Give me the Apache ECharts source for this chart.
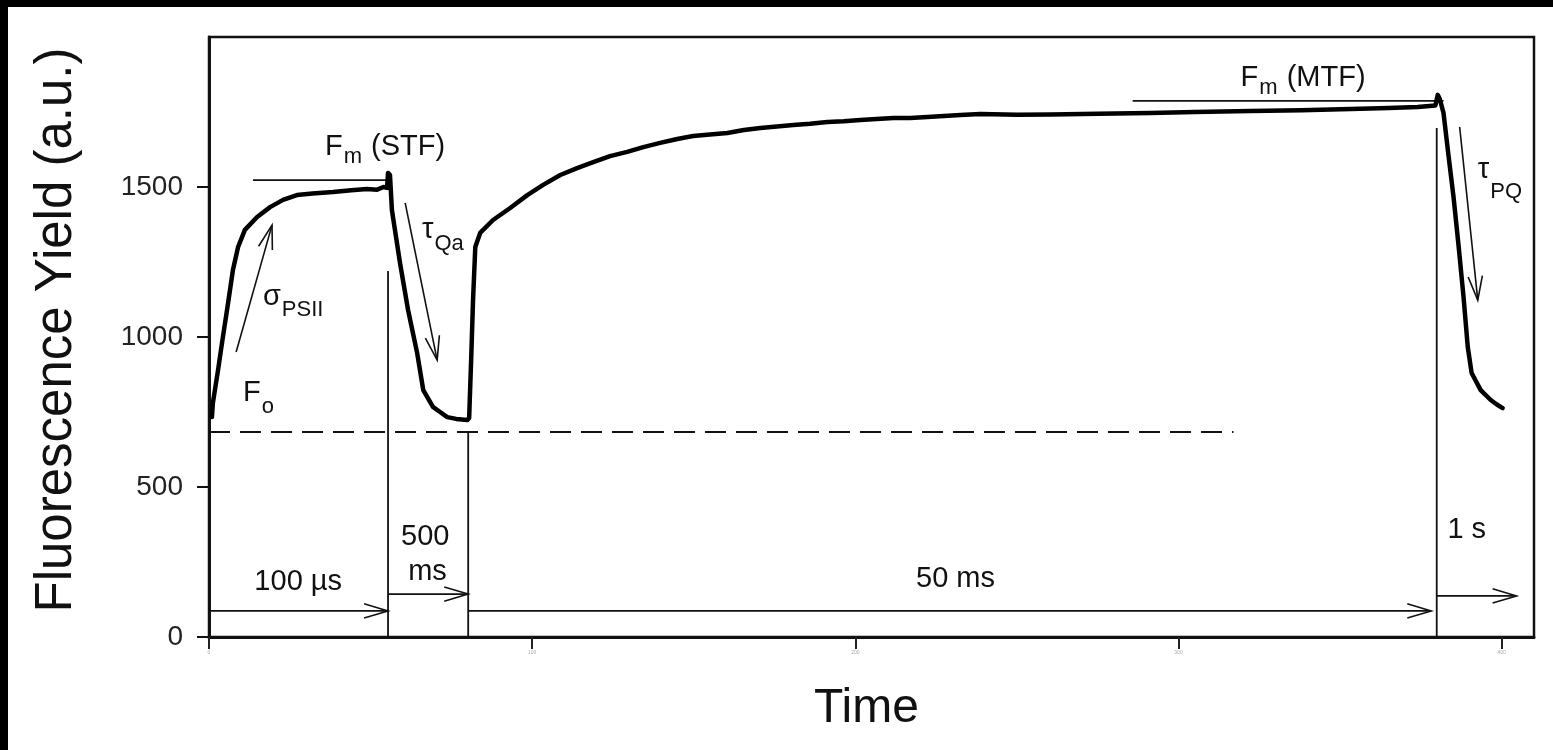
<!DOCTYPE html>
<html>
<head>
<meta charset="utf-8">
<script src="https://cdn.jsdelivr.net/npm/echarts@6/dist/echarts.min.js"></script>
<style>
  html, body { margin: 0; padding: 0; background: #fff; }
  #main { width: 1553px; height: 750px; }
</style>
</head>
<body>
<div id="main"></div>
<script>
// fluorescence trace (x = sample index, y = a.u.)
const sampleIdx = [
  0.9, 1.2, 2.8, 4.3, 5.9, 7.4, 9.0, 11.1, 14.9, 18.9, 22.9, 27.2, 32, 38.4, 44, 48.9, 52, 54, 55.1,
  55.4, 56.0, 56.6, 59.1, 61.6, 64.4, 66.3, 69.3, 71.5, 73.7, 76.5, 79.9,
  80.5, 81.2, 81.7, 82.4, 83.9, 87.9, 93.2, 98.5, 103.4, 108.7, 113.9, 118.9, 124.1, 129.4, 134.4,
  139.6, 144.9, 149.8, 155, 160.4, 165.5, 170.6, 175.7, 180.8, 186, 191.3, 196.4, 201.5, 206.6,
  211.8, 217, 222.3, 232.5, 238.7, 250, 260.4, 275, 291.3, 305, 322.3, 338, 353.3, 365, 374, 379.5,
  380.2, 380.8, 382.0, 383.6, 385.1, 386.7, 388.2, 389.5, 390.7, 393.5, 396.6, 398.5, 400.3
];
const yieldAU = [
  733, 780, 890, 1000, 1113, 1223, 1300, 1357, 1400, 1433, 1457, 1473, 1478, 1483, 1489, 1493, 1491, 1500, 1497,
  1547, 1540, 1423, 1247, 1090, 947, 823, 767, 750, 733, 727, 723,
  730, 950, 1123, 1300, 1347, 1390, 1430, 1473, 1507, 1540, 1563, 1583, 1603, 1617, 1633,
  1647, 1660, 1670, 1675, 1680, 1690, 1697, 1702, 1707, 1711, 1717, 1719, 1723, 1727,
  1730, 1730, 1733, 1740, 1743, 1741, 1742, 1744, 1747, 1750, 1753, 1756, 1760, 1763, 1767, 1772,
  1807, 1795, 1747, 1600, 1467, 1300, 1133, 967, 880, 823, 790, 775, 763
];

const yTicks = [0, 500, 1000, 1500];
const xTicks = [0, 100, 200, 300, 400];
const xTickLabels = ['0', '100', '200', '300', '400'];

// annotation geometry, in data units: [x1, y1, x2, y2]
const fmLevels = [[13.6, 1523, 55.1, 1523], [285.8, 1787, 382.0, 1787]];
const flashMarks = [[55.4, 0, 55.4, 1220], [80.2, 0, 80.2, 683], [379.9, 0, 379.9, 1697]];
const foLevel = [[0, 683], [317, 683]];
const arrows = [
  [8.4, 950, 19.5, 1373],     // sigma PSII
  [60.7, 1447, 70.6, 923],    // tau Qa
  [387.0, 1700, 392.6, 1123], // tau PQ
  [0.3, 87, 55.4, 87],        // 100 us
  [55.4, 143, 80.2, 143],     // 500 ms
  [80.2, 87, 378.2, 87],      // 50 ms
  [379.9, 137, 404.6, 137]    // 1 s
];

// text annotations: main text, subscript, tail, anchor (baseline) in data units
const labelMain = ['F', 'F', 'σ', 'τ', 'τ', 'F', '100 µs', '500', 'ms', '50 ms', '1 s'];
const labelSub  = ['m', 'm', 'PSII', 'Qa', 'PQ', 'o', '', '', '', '', ''];
const labelTail = [' (STF)', ' (MTF)', '', '', '', '', '', '', '', '', ''];
const labelAt = [
  [35.9, 1600], [319.2, 1830], [16.7, 1097], [65.9, 1323], [392.6, 1523], [10.5, 780],
  [27.6, 147], [66.9, 300], [67.6, 183], [231, 157], [389.2, 323]
];
const labelAlign = ['left', 'left', 'left', 'left', 'left', 'left', 'center', 'center', 'center', 'center', 'center'];
const subDrop = [8, 8, 10, 12, 20, 12, 0, 0, 0, 0, 0];

const FONT = '"Liberation Sans", Arial, sans-serif';
const mainSize = 29, subSize = 22;

const measureCtx = document.createElement('canvas').getContext('2d');
function textWidth(str, size) {
  measureCtx.font = size + 'px ' + FONT;
  return measureCtx.measureText(str).width;
}

const chart = echarts.init(document.getElementById('main'), null, { renderer: 'canvas' });

function arrowItem(params, api) {
  const p1 = api.coord([api.value(0), api.value(1)]);
  const p2 = api.coord([api.value(2), api.value(3)]);
  const a = Math.atan2(p2[1] - p1[1], p2[0] - p1[0]);
  const L = 25, th = 0.29;
  const h1 = [p2[0] - L * Math.cos(a - th), p2[1] - L * Math.sin(a - th)];
  const h2 = [p2[0] - L * Math.cos(a + th), p2[1] - L * Math.sin(a + th)];
  return {
    type: 'group',
    children: [
      { type: 'line', shape: { x1: p1[0], y1: p1[1], x2: p2[0], y2: p2[1] }, style: { stroke: '#111', lineWidth: 1.6 } },
      { type: 'polyline', shape: { points: [h1, p2, h2] }, style: { stroke: '#111', fill: null, lineWidth: 1.6 } }
    ]
  };
}

function segmentItem(params, api) {
  const p1 = api.coord([api.value(0), api.value(1)]);
  const p2 = api.coord([api.value(2), api.value(3)]);
  return {
    type: 'line',
    shape: { x1: p1[0], y1: p1[1], x2: p2[0], y2: p2[1] },
    style: { stroke: '#111', lineWidth: 1.8 }
  };
}

function labelItem(params, api) {
  const i = params.dataIndex;
  const p = api.coord([api.value(0), api.value(1)]);
  const main = labelMain[i], sub = labelSub[i], tail = labelTail[i];
  const wMain = textWidth(main, mainSize);
  const wSub = sub ? textWidth(sub, subSize) : 0;
  const wTail = tail ? textWidth(tail, mainSize) : 0;
  let x = p[0];
  if (labelAlign[i] === 'center') x -= (wMain + wSub + wTail) / 2;
  const base = p[1];
  const children = [{
    type: 'text',
    style: { text: main, x: x, y: base - mainSize * 0.36, fill: '#111', font: mainSize + 'px ' + FONT, textAlign: 'left', textVerticalAlign: 'middle' }
  }];
  if (sub) {
    children.push({
      type: 'text',
      style: { text: sub, x: x + wMain + 1, y: base + subDrop[i] - subSize * 0.36, fill: '#111', font: subSize + 'px ' + FONT, textAlign: 'left', textVerticalAlign: 'middle' }
    });
  }
  if (tail) {
    children.push({
      type: 'text',
      style: { text: tail, x: x + wMain + wSub + 2, y: base - mainSize * 0.36, fill: '#111', font: mainSize + 'px ' + FONT, textAlign: 'left', textVerticalAlign: 'middle' }
    });
  }
  return { type: 'group', children: children };
}

const trace = sampleIdx.map((x, i) => [x, yieldAU[i]]);

chart.setOption({
  animation: false,
  backgroundColor: '#fff',
  textStyle: { fontFamily: FONT },
  grid: {
    left: 209, top: 37, right: 19, bottom: 113,
    show: true, borderColor: '#111', borderWidth: 2.5,
    containLabel: false, outerBoundsMode: 'none'
  },
  xAxis: {
    type: 'value', min: 0, max: 410, interval: 100,
    name: 'Time', nameLocation: 'middle', nameGap: 48,
    nameTextStyle: { fontSize: 48, color: '#111', fontFamily: FONT, padding: [0, 10, 0, 0] },
    splitLine: { show: false },
    axisLine: { show: true, lineStyle: { color: '#111', width: 3 } },
    axisTick: { show: true, inside: false, length: 12, customValues: xTicks, lineStyle: { color: '#222', width: 2 } },
    axisLabel: { show: true, fontSize: 5, color: '#aaa', margin: 13, customValues: xTicks, formatter: v => xTickLabels[xTicks.indexOf(v)] || '' }
  },
  yAxis: {
    type: 'value', min: 0, max: 2000, interval: 500,
    name: 'Fluorescence Yield (a.u.)', nameLocation: 'middle', nameGap: 127, nameRotate: 90,
    nameTextStyle: { fontSize: 51, color: '#111', fontFamily: FONT, padding: [0, 0, 0, 14] },
    splitLine: { show: false },
    axisLine: { show: true, lineStyle: { color: '#111', width: 3 } },
    axisTick: { show: true, inside: false, length: 12, customValues: yTicks, lineStyle: { color: '#111', width: 2 } },
    axisLabel: { show: true, fontSize: 28, color: '#222', margin: 26, customValues: yTicks, formatter: v => String(v) }
  },
  graphic: [
    { type: 'rect', left: 0, top: 0, shape: { width: 1553, height: 7 }, style: { fill: '#000' }, z: 100 },
    { type: 'rect', left: 0, top: 0, shape: { width: 8, height: 750 }, style: { fill: '#000' }, z: 100 }
  ],
  series: [
    {
      type: 'line', name: 'Fo', data: foLevel, symbol: 'none', silent: true,
      lineStyle: { color: '#111', width: 2, type: [21, 10] }
    },
    {
      type: 'custom', name: 'levels', data: fmLevels.concat(flashMarks), renderItem: segmentItem,
      encode: { x: [0, 2], y: [1, 3] }, silent: true
    },
    {
      type: 'custom', name: 'arrows', data: arrows, renderItem: arrowItem,
      encode: { x: [0, 2], y: [1, 3] }, silent: true
    },
    {
      type: 'line', name: 'yield', data: trace, symbol: 'none', silent: true, z: 5,
      lineStyle: { color: '#000', width: 4.5, join: 'round', cap: 'round' }
    },
    {
      type: 'custom', name: 'labels', data: labelAt, renderItem: labelItem,
      encode: { x: 0, y: 1 }, silent: true, z: 6
    }
  ]
});
</script>
</body>
</html>
